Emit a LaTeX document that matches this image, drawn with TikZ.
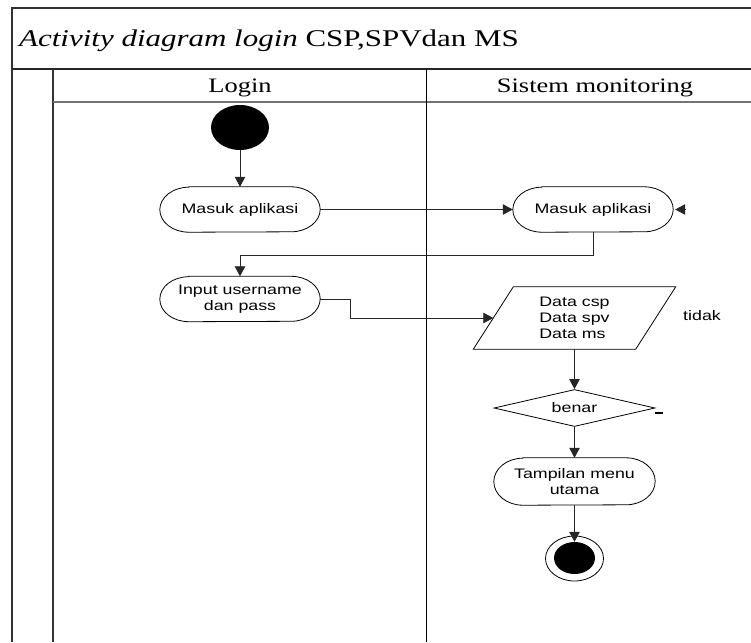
\documentclass[tikz,border=0pt]{standalone}
\usepackage{fontspec}
\setmainfont{Liberation Serif}
\newfontfamily\arialfont{Liberation Sans}
\usetikzlibrary{shapes.geometric,arrows.meta,calc}

% horizontally widened text
\newcommand\wide[1]{\scalebox{1.29}[1]{#1}}
% outline of an activity (stadium with elliptic ends): node, x radius, y radius
\newcommand\stadium[3]{%
  \draw[shapeline] ([xshift=#2]#1.north west) -- ([xshift=-#2]#1.north east)
    arc[start angle=90, end angle=-90, x radius=#2, y radius=#3]
    -- ([xshift=#2]#1.south west)
    arc[start angle=270, end angle=90, x radius=#2, y radius=#3] -- cycle;}

\begin{document}
\begin{tikzpicture}[x=1pt,y=-1pt,
  frame/.style={draw=black!80, line width=1.3pt},
  conn/.style={draw=black!85, line width=0.8pt, -{Triangle[length=10pt,width=10.5pt]}},
  shapeline/.style={draw=black, line width=0.8pt},
  lbl/.style={font=\arialfont\fontsize{13.8}{16}\selectfont, align=center, inner sep=0pt},
  act/.style={lbl, minimum width=160pt, minimum height=45pt},
  head/.style={anchor=base, inner sep=0pt, font=\fontsize{20.5}{24}\selectfont},
]
\useasboundingbox (0,0) rectangle (751,642);

% swimlane frame
\draw[frame] (751,8) -- (12,8) -- (12,642);
\draw[line width=1.8pt, draw=black!85] (12,69) -- (751,69);
\draw[frame] (53,69) -- (53,642);
\draw[line width=1.4pt, draw=black!55] (53,102) -- (751,102);
\draw[line width=1pt] (426,69) -- (426,642);

\node[anchor=base west, inner sep=0pt, font=\fontsize{24}{28}\selectfont] (title) at (19,46)
  {\wide{\textit{Activity diagram login} CSP,SPVdan MS}};
\node[head] (h1) at (240,92) {\wide{Login}};
\node[head] (h2) at (595,92) {\wide{Sistem monitoring}};

% nodes
\node[ellipse, fill=black, minimum width=58pt, minimum height=45pt, inner sep=0pt] (start) at (240,127.5) {};
\node[act] (m1) at (240,209.5) {\wide{Masuk aplikasi}};
\node[act] (m2) at (593,209.5) {\wide{Masuk aplikasi}};
\node[act] (inp) at (240,299) {\wide{Input username}\\\wide{dan pass}};
\node[lbl, align=left, minimum width=162pt, minimum height=62pt] (dat) at (574.5,318)
  {\wide{Data csp}\\\wide{Data spv}\\\wide{Data ms}};
\node[lbl, diamond, aspect=4.35, shapeline, minimum width=161pt, minimum height=37pt] (dia) at (574.5,408) {\wide{benar}};
\node[act, minimum width=161pt, minimum height=47pt] (tam) at (574.5,481.5) {\wide{Tampilan menu}\\\wide{utama}};
\node[ellipse, shapeline, minimum width=58pt, minimum height=45pt, inner sep=0pt] (endo) at (574.5,558.5) {};
\node[ellipse, fill=black, minimum width=41pt, minimum height=32pt, inner sep=0pt] (endi) at (574.5,558) {};
\node[lbl] (tidak) at (702,316) {\wide{tidak}};

\stadium{m1}{29pt}{22.5pt}
\stadium{m2}{29pt}{22.5pt}
\stadium{inp}{29pt}{22.5pt}
\stadium{tam}{29pt}{23.5pt}
\draw[shapeline] ([xshift=20pt]dat.north west) -- ([xshift=20pt]dat.north east)
  -- ([xshift=-20pt]dat.south east) -- ([xshift=-20pt]dat.south west) -- cycle;

% connectors
\draw[conn] (start) -- (m1);
\draw[conn] (m1) -- (m2);
\draw[conn] (m2.south) -- ++(0,23) -| (inp.north);
\draw[conn] (inp.east) -- ++(30,0) |- (dat.west);
\draw[conn] (dat.south) -- (dia.north);
\draw[conn] (dia.south) -- (tam.north);
\draw[conn] (tam.south) -- (endi.north);
\coordinate (back) at (686,209.5);
\draw[conn] (back) -- ([xshift=2pt]m2.east);
\draw[line width=1.6pt] ([yshift=-5pt]dia.east) -- ++(8,0);
\end{tikzpicture}
\end{document}
